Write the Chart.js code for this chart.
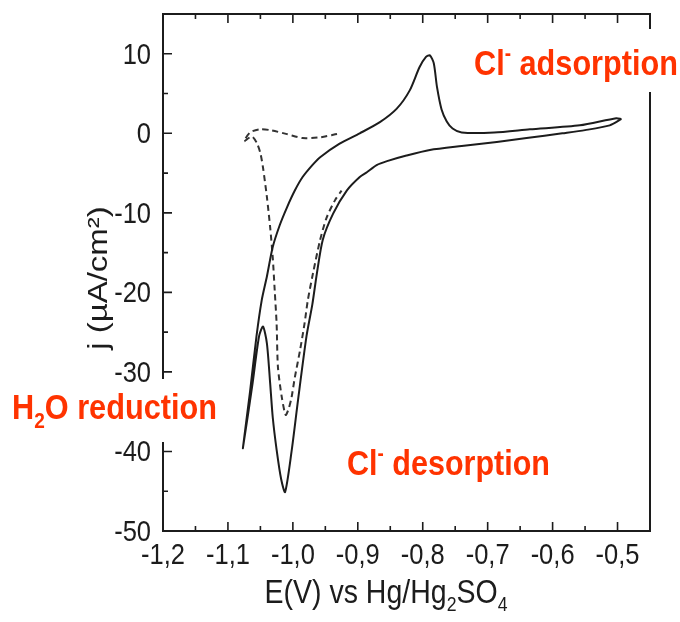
<!DOCTYPE html>
<html>
<head>
<meta charset="utf-8">
<title>Cyclic voltammogram</title>
<script src="https://cdn.jsdelivr.net/npm/chart.js@4.4.1/dist/chart.umd.min.js"></script>
<style>
  html, body { margin: 0; padding: 0; background: #fff; }
  #wrap { width: 680px; height: 622px; }
</style>
</head>
<body>
<div id="wrap"><canvas id="cv" width="680" height="622"></canvas></div>
<script>
// ===============================
// Data
// ===============================
// solid curve: starts at the -0.5 V turning point, cathodic branch first
const solidE = [
  -0.494, -0.512, -0.550, -0.585, -0.640, -0.686, -0.740, -0.789, -0.825, -0.855,
  -0.871, -0.886, -0.897, -0.917, -0.938, -0.954, -0.963, -0.970, -0.979, -0.992,
  -1.002, -1.012, -1.018, -1.025, -1.031, -1.035, -1.040, -1.046, -1.052, -1.062,
  -1.077, -1.066, -1.056, -1.048, -1.040, -1.031, -1.020, -1.009, -0.997, -0.985,
  -0.970, -0.958, -0.928, -0.897, -0.866, -0.840, -0.820, -0.805, -0.795, -0.789,
  -0.783, -0.778, -0.771, -0.763, -0.754, -0.740, -0.690, -0.635, -0.558, -0.502,
  -0.494
];
const solidJ = [
  1.8, 1.0, 0.4, 0.0, -0.6, -1.1, -1.6, -2.1, -2.8, -3.5,
  -4.0, -4.9, -5.5, -7.2, -10.1, -13.4, -17.6, -21.5, -25.5, -33.5,
  -40.0, -45.1, -43.5, -39.8, -35.7, -31.4, -26.4, -24.3, -25.5, -31.4,
  -39.6, -32.5, -25.5, -21.0, -18.0, -14.3, -11.5, -9.3, -7.2, -5.5,
  -4.0, -3.0, -1.3, 0.0, 1.4, 3.1, 5.4, 8.3, 9.6, 9.8,
  8.8, 5.8, 3.0, 1.5, 0.6, 0.1, 0.1, 0.5, 1.0, 1.9,
  1.8
];

// dashed curve
const dashE = [
  -0.932, -0.958, -0.985, -1.009, -1.035, -1.051, -1.066, -1.075, -1.063, -1.055,
  -1.050, -1.046, -1.040, -1.035, -1.031, -1.028, -1.025, -1.023, -1.017, -1.011,
  -1.006, -1.002, -0.997, -0.989, -0.982, -0.977, -0.969, -0.958, -0.948, -0.935,
  -0.925
];
const dashJ = [
  -0.1, -0.5, -0.6, -0.1, 0.4, 0.5, 0.1, -1.0, -0.4, -1.3,
  -2.5, -4.3, -8.0, -11.8, -15.6, -19.7, -24.0, -29.4, -33.2, -35.4,
  -34.5, -33.2, -30.7, -27.3, -23.9, -21.0, -17.6, -13.4, -10.6, -8.4,
  -7.2
];

const xTickValues = [-1.2, -1.1, -1.0, -0.9, -0.8, -0.7, -0.6, -0.5];
const xMinorValues = [-1.15, -1.05, -0.95, -0.85, -0.75, -0.65, -0.55];
const yTickValues = [10, 0, -10, -20, -30, -40, -50];
const yMinorValues = [5, -5, -15, -25, -35, -45];

// text pieces: [text, kind] kind 0 normal, 1 subscript, -1 superscript
const xTitle = [["E(V) vs Hg/Hg", 0], ["2", 1], ["SO", 0], ["4", 1]];
const yTitle = [["j (\u00b5A/cm\u00b2)", 0]];
const adsorptionLabel = [["Cl", 0], ["-", -1], [" adsorption", 0]];
const desorptionLabel = [["Cl", 0], ["-", -1], [" desorption", 0]];
const reductionLabel = [["H", 0], ["2", 1], ["O reduction", 0]];

// ===============================
// Styles
// ===============================
const ink = "#1c1c1c";
const red = "#ff3300";
const sans = '"Liberation Sans", Arial, sans-serif';

// ===============================
// Text helper (sub/superscripts, stretch)
// ===============================
function drawRuns(ctx, runs, opt) {
  ctx.save();
  ctx.translate(opt.x, opt.y);
  if (opt.rot) ctx.rotate(opt.rot);
  const fontFor = (s) => `${opt.weight || "normal"} ${s}px ${sans}`;
  const pieces = runs.map(([t, k]) => {
    const s = k ? opt.size * 0.62 : opt.size;
    ctx.font = fontFor(s);
    const dy = k > 0 ? opt.size * 0.25 : k < 0 ? -opt.size * 0.42 : 0;
    return { t, s, dy, w: ctx.measureText(t).width };
  });
  const total = pieces.reduce((a, p) => a + p.w, 0);
  const sx = opt.width ? opt.width / total : opt.sx || 1;
  ctx.scale(sx, opt.sy || 1);
  ctx.fillStyle = opt.color || ink;
  ctx.textBaseline = "alphabetic";
  ctx.textAlign = "left";
  let cx = -total * (opt.align || 0);
  pieces.forEach((p) => {
    ctx.font = fontFor(p.s);
    ctx.fillText(p.t, cx, p.dy);
    cx += p.w;
  });
  ctx.restore();
}

function fmt(v) {
  return v.toFixed(1).replace(".", ",");
}

// ===============================
// Frame, ticks, labels, notes
// ===============================
const framePlugin = {
  id: "frame",
  afterDatasetsDraw(chart) {
    const { ctx, chartArea: a, scales } = chart;
    const x = scales.x;
    const y = scales.y;
    ctx.save();
    ctx.strokeStyle = ink;
    ctx.lineWidth = 2;
    ctx.strokeRect(a.left, a.top, a.right - a.left, a.bottom - a.top);

    ctx.lineWidth = 1.6;
    ctx.beginPath();
    const xMark = (v, len) => {
      const p = x.getPixelForValue(v);
      ctx.moveTo(p, a.bottom); ctx.lineTo(p, a.bottom - len);
      ctx.moveTo(p, a.top); ctx.lineTo(p, a.top + len);
    };
    const yMark = (v, len) => {
      const p = y.getPixelForValue(v);
      ctx.moveTo(a.left, p); ctx.lineTo(a.left + len, p);
    };
    xTickValues.forEach((v) => xMark(v, 9));
    xMinorValues.forEach((v) => xMark(v, 5));
    yTickValues.forEach((v) => yMark(v, 9));
    yMinorValues.forEach((v) => yMark(v, 5));
    ctx.stroke();

    // white boxes behind the notes (they hide part of the frame)
    ctx.fillStyle = "#fff";
    ctx.fillRect(462, 29, 218, 63);
    ctx.fillRect(0, 379, 224, 63);
    ctx.restore();

    // tick labels
    x.ticks.forEach((t) => {
      drawRuns(ctx, [[fmt(t.value), 0]], {
        x: x.getPixelForValue(t.value), y: 564, size: 25.5, sy: 1.15, align: 0.5,
      });
    });
    y.ticks.forEach((t) => {
      drawRuns(ctx, [[String(t.value), 0]], {
        x: a.left - 12, y: y.getPixelForValue(t.value) + 10, size: 25.5, sy: 1.15, align: 1,
      });
    });

    // axis titles
    drawRuns(ctx, xTitle, { x: 386, y: 603, size: 28.5, sy: 1.15, align: 0.5 });
    drawRuns(ctx, yTitle, { x: 107, y: 278, size: 27.5, sx: 1.2, align: 0.5, rot: -Math.PI / 2 });

    // annotations
    const note = { size: 31, sy: 1.15, weight: "bold", color: red };
    drawRuns(ctx, adsorptionLabel, { ...note, x: 474, y: 75, width: 204 });
    drawRuns(ctx, desorptionLabel, { ...note, x: 347, y: 475, width: 203 });
    drawRuns(ctx, reductionLabel, { ...note, x: 12, y: 419, width: 205 });
  },
};

// ===============================
// Chart
// ===============================
const points = (es, js) => es.map((e, i) => ({ x: e, y: js[i] }));

new Chart(document.getElementById("cv"), {
  type: "scatter",
  data: {
    datasets: [
      {
        data: points(solidE, solidJ),
        showLine: true,
        borderColor: ink,
        borderWidth: 2,
        pointRadius: 0,
        tension: 0.25,
      },
      {
        data: points(dashE, dashJ),
        showLine: true,
        borderColor: "#333",
        borderWidth: 2,
        borderDash: [6, 4],
        pointRadius: 0,
        tension: 0.25,
      },
    ],
  },
  options: {
    responsive: false,
    animation: false,
    layout: { padding: { top: 14, right: 30, left: 0, bottom: 0 } },
    plugins: { legend: { display: false }, tooltip: { enabled: false } },
    scales: {
      x: {
        type: "linear",
        min: -1.2,
        max: -0.45,
        grid: { display: false },
        border: { display: false },
        ticks: { display: false },
        afterBuildTicks: (s) => { s.ticks = xTickValues.map((value) => ({ value })); },
        afterFit: (s) => { s.height = 91; },
      },
      y: {
        type: "linear",
        min: -50,
        max: 15,
        grid: { display: false },
        border: { display: false },
        ticks: { display: false },
        afterBuildTicks: (s) => { s.ticks = yTickValues.map((value) => ({ value })); },
        afterFit: (s) => { s.width = 163; },
      },
    },
  },
  plugins: [framePlugin],
});
</script>
</body>
</html>
